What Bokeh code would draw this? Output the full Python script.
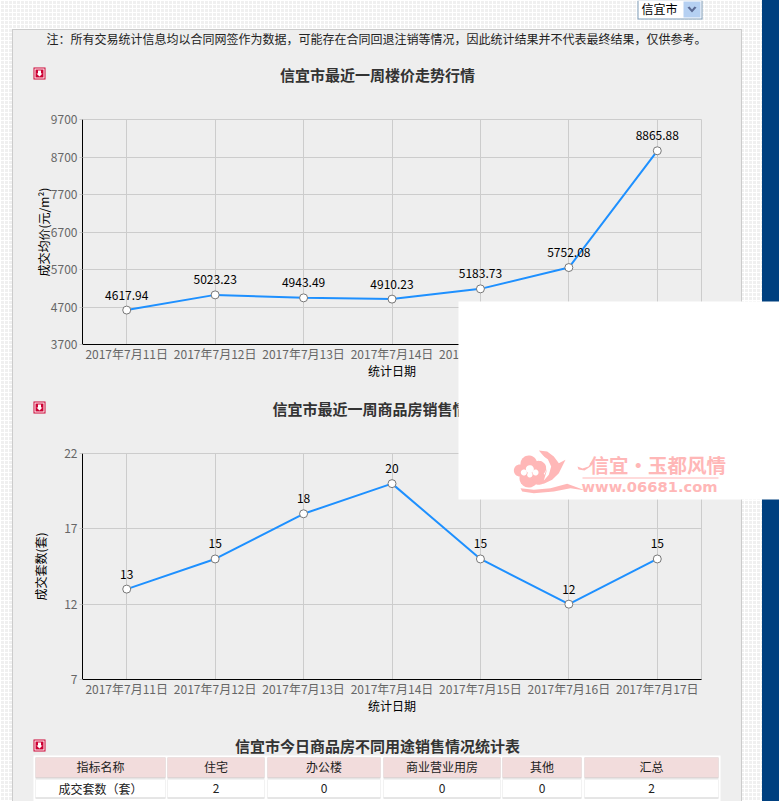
from bokeh.embed import file_html
from bokeh.resources import INLINE
from bokeh.plotting import figure
from bokeh.layouts import column
from bokeh.models import ColumnDataSource, FixedTicker, Range1d
from bokeh.core.properties import value
import numpy as np

dates = ["2017年7月11日", "2017年7月12日", "2017年7月13日", "2017年7月14日",
         "2017年7月15日", "2017年7月16日", "2017年7月17日"]
prices = [4617.94, 5023.23, 4943.49, 4910.23, 5183.73, 5752.08, 8865.88]
counts = [13, 15, 18, 20, 15, 12, 15]
price_ticks = [3700, 4700, 5700, 6700, 7700, 8700, 9700]
count_ticks = [7, 12, 17, 22]
table_head = ["指标名称", "住宅", "办公楼", "商业营业用房", "其他", "汇总"]
table_row = ["成交套数（套）", "2", "0", "0", "0", "2"]

note = "注：所有交易统计信息均以合同网签作为数据，可能存在合同回退注销等情况，因此统计结果并不代表最终结果，仅供参考。"
title1 = "信宜市最近一周楼价走势行情"
title2 = "信宜市最近一周商品房销售情况"
title3 = "信宜市今日商品房不同用途销售情况统计表"

FONT = "Noto Sans CJK SC"
CRIMSON = "#cc0033"
PINK = "#ffb7b7"


def line_chart(height, border_top, values, ticks, ylab, label_fmt, y_range, standoff):
    p = figure(width=779, height=height, x_range=dates, y_range=y_range,
               output_backend="svg", toolbar_location=None, tools="",
               min_border_left=82, min_border_right=78, min_border_top=border_top, min_border_bottom=41)
    p.background_fill_alpha = 0
    p.border_fill_alpha = 0
    p.outline_line_color = "#cccccc"
    p.grid.grid_line_color = "#cccccc"
    p.yaxis.ticker = FixedTicker(ticks=ticks)
    for ax in (p.xaxis[0], p.yaxis[0]):
        ax.axis_line_color = "#000000"
        ax.major_tick_line_color = "#cccccc"
        ax.minor_tick_line_color = None
        ax.major_tick_in = 0
        ax.major_label_text_font = FONT
        ax.major_label_text_font_size = "12px"
        ax.major_label_text_color = "#666666"
        ax.axis_label_text_font = FONT
        ax.axis_label_text_font_size = "12px"
        ax.axis_label_text_font_style = "normal"
        ax.axis_label_text_color = "#000000"
    p.xaxis.major_tick_out = 0
    p.xaxis.major_label_standoff = 0
    p.xaxis.axis_label = "统计日期"
    p.xaxis.axis_label_standoff = -3
    p.yaxis.major_tick_out = 3
    p.yaxis.major_label_standoff = 2
    p.yaxis.axis_label = ylab
    p.yaxis.axis_label_standoff = standoff
    src = ColumnDataSource(dict(x=dates, y=values, t=[label_fmt % v for v in values]))
    p.line("x", "y", source=src, line_color="#1e90ff", line_width=2)
    p.scatter("x", "y", source=src, size=8, marker="circle", fill_color="#ffffff",
              line_color="#777777", line_width=1)
    p.text("x", "y", text="t", source=src, text_font=value(FONT), text_font_size="12px",
           text_color="#000000", text_align="center", text_baseline="middle", y_offset=-15)
    return p


p1 = line_chart(385, 119, prices, price_ticks, "成交均价(元/m²)", "%.2f", Range1d(3700, 9700), -4)
p2 = line_chart(335, 68, counts, count_ticks, "成交套数(套)", "%d", Range1d(7, 22), 12)

# ---- transparent page layer on top of both charts: its data units are page pixels
p3 = figure(width=779, height=801, x_range=Range1d(0, 779), y_range=Range1d(801, 0),
            output_backend="svg", toolbar_location=None, tools="", x_axis_type=None, y_axis_type=None,
            min_border=0, frame_align=False,
            styles={"position": "absolute", "left": "0px", "top": "0px", "z-index": "5"})
p3.background_fill_alpha = 0
p3.border_fill_alpha = 0
p3.outline_line_alpha = 0
p3.grid.visible = False


def box(x0, y0, x1, y1, color):
    p3.quad(left=[x0], right=[x1], top=[y0], bottom=[y1], fill_color=color, line_alpha=0)


def poly(xs, ys, color):
    p3.patch(list(xs), list(ys), fill_color=color, line_alpha=0)


def txt(x, y, t, size="12px", color="#222222", style="normal", align="left", font=FONT):
    p3.text([x], [y], text=[t], text_font=value(font), text_font_size=size, text_color=color,
            text_font_style=style, text_align=align, text_baseline="middle")


def icon(y):
    box(33, y, 45, y + 12, CRIMSON)
    box(34, y + 1, 44, y + 11, "#ffffff")
    box(35, y + 2, 43, y + 10, CRIMSON)
    poly([37.5, 40.5, 40.5, 42, 39, 36, 37.5], [y + 3, y + 3, y + 6, y + 6, y + 9, y + 6, y + 6], "#ffffff")


def logo_poly(points, color):
    poly([510 + a / 3 for a, _ in points], [446 + b / 3 for _, b in points], color)


# dropdown
box(637, 0, 702, 19, "#7f9db9")
box(638, 0, 701, 18, "#ffffff")
box(683, 1, 700, 17, "#b5d0f2")
poly([687, 689, 691.5, 694, 696, 691.5], [7, 6, 9, 6, 7, 12], "#5a6a94")
txt(641, 8, "信宜市", color="#000000")

txt(46, 38, note)
icon(67)
txt(377, 73.5, title1, size="15px", style="bold", color="#333333", align="center")
icon(401)
txt(377, 407.5, title2, size="15px", style="bold", color="#333333", align="center")

# white block with the watermark
box(458, 301, 779, 499, "#ffffff")
th = np.linspace(0, 2 * np.pi, 40)
for cx, cy, r in [(28, 72, 18), (55, 52, 25), (85, 65, 22), (55, 95, 28), (85, 95, 20)]:
    logo_poly([(cx + r * np.cos(t), cy + r * np.sin(t)) for t in th], PINK)
for cx, cy, r in [(40, 78, 9), (58, 68, 12), (75, 78, 9), (58, 85, 8)]:
    logo_poly([(cx + r * np.cos(t), cy + r * np.sin(t)) for t in th], "#ffffff")
logo_poly([(85, 12), (110, 15), (130, 30), (145, 50), (165, 40), (155, 60), (145, 80), (125, 100),
           (100, 112), (70, 108), (60, 92), (100, 90), (112, 60), (105, 35)], PINK)
logo_poly([(92, 25), (112, 38), (122, 60), (115, 85), (100, 102), (108, 75), (108, 55), (100, 38)], "#ffffff")
logo_poly([(30, 125), (70, 130), (120, 125), (170, 112), (225, 132), (180, 125), (130, 135), (70, 140),
           (35, 135)], PINK)
poly([577, 582, 588, 593, 590, 584, 578], [466, 468, 466, 458, 466, 470, 469], PINK)
txt(589, 463.5, "信宜·玉都风情", size="19.5px", color=PINK, style="bold")
box(582, 477, 718, 478, PINK)
txt(581, 486, "www.06681.com", size="14.7px", color=PINK, style="bold", font="DejaVu Sans")

# table
box(33, 755, 720, 801, "#ffffff")
col_l = [35, 167, 267, 383, 502, 584]
col_r = [165, 264, 380, 500, 581, 718]
mid = [(a + b) / 2 for a, b in zip(col_l, col_r)]
p3.quad(left=col_l, right=col_r, top=[757] * 6, bottom=[778] * 6, fill_color="#cccccc", line_alpha=0)
p3.quad(left=col_l, right=col_r, top=[757] * 6, bottom=[777] * 6, fill_color="#f2dcdc", line_alpha=0)
p3.quad(left=col_l, right=col_r, top=[779] * 6, bottom=[798] * 6, fill_color="#cccccc", line_alpha=0)
p3.quad(left=col_l, right=col_r, top=[779] * 6, bottom=[797] * 6, fill_color="#ffffff", line_alpha=0)
p3.text(mid, [766] * 6, text=table_head, text_font=value(FONT), text_font_size="12px",
        text_color="#222222", text_align="center", text_baseline="middle")
p3.text(mid, [787.5] * 6, text=table_row, text_font=value(FONT), text_font_size="12px",
        text_color="#222222", text_align="center", text_baseline="middle")
txt(377, 744.5, title3, size="15px", style="bold", color="#333333", align="center")
icon(739)

bg = ("linear-gradient(#00407f,#00407f) 762px 0/17px 100% no-repeat,"
      "linear-gradient(#eeeeee,#eeeeee) 13px 30px/728px 771px no-repeat,"
      "linear-gradient(#cccccc,#cccccc) 12px 29px/730px 772px no-repeat,"
      "linear-gradient(90deg,#ffffff 1px,transparent 1px) 0 0/4px 4px,"
      "linear-gradient(#ffffff 1px,transparent 1px) 0 0/4px 4px,"
      "#f0f0f0")
root = column(p1, p2, p3, spacing=0, width=779, height=801,
              styles={"background": bg, "position": "relative"})
open("out.html", "w").write(file_html(root, INLINE))
